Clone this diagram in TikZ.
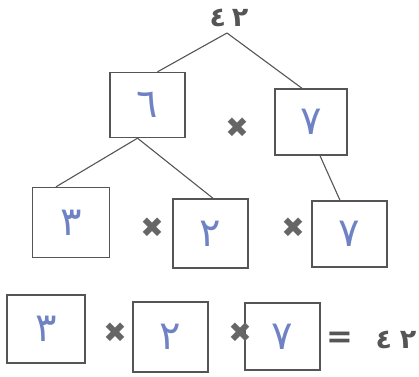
\documentclass[tikz,border=0pt]{standalone}
\usepackage{fontspec}
\newfontfamily\arabicfont[Script=Arabic]{DejaVu Sans}
\newfontfamily\symfont{DejaVu Sans}
\definecolor{ink}{HTML}{555555}
\definecolor{pen}{HTML}{6F82C4}
\newcommand\hdig[1]{\raisebox{-5pt}{#1}}
\begin{document}
\begin{tikzpicture}[x=1pt,y=-1pt,
  numbox/.style={draw=ink, line width=1.4pt, inner sep=0pt, text=pen,
    font=\arabicfont\fontsize{40}{42}\selectfont},
  times/.style={text=ink!90, font=\symfont\fontsize{28}{30}\selectfont, inner sep=0pt},
  printed/.style={text=ink, font=\arabicfont\bfseries\fontsize{27}{29}\selectfont, inner sep=0pt},
  branch/.style={draw=ink, line width=1.1pt}]
\useasboundingbox (0,0) rectangle (419,376);
% top number
\node[printed] (top) at (229,18) {٤\hspace{6pt}٢};
\coordinate (apex) at (227,33);
% first level
\node[numbox, minimum width=75pt, minimum height=65pt] (six) at (147.5,105) {\hdig{٦}};
\node[numbox, minimum width=72pt, minimum height=66pt] (seven) at (311,122) {\hdig{٧}};
\node[times] (x1) at (237,128) {✖};
% second level
\node[numbox, minimum width=77pt, minimum height=70pt] (three) at (71,222.5) {\hdig{٣}};
\node[numbox, minimum width=75pt, minimum height=69pt] (two) at (210.5,233.5) {\hdig{٢}};
\node[numbox, minimum width=75pt, minimum height=66pt] (sevenb) at (349.5,234) {\hdig{٧}};
\node[times] (x2) at (152,228) {✖};
\node[times] (x3) at (293,228) {✖};
% branches
\draw[branch] (apex) -- ([xshift=10pt]six.north);
\draw[branch] (apex) -- ([xshift=-9pt]seven.north);
\draw[branch] ([xshift=-10pt]six.south) -- ([xshift=-15pt]three.north);
\draw[branch] ([xshift=-10pt]six.south) -- ([xshift=2.5pt]two.north);
\draw[branch] ([xshift=9pt]seven.south) -- ([xshift=-9.5pt]sevenb.north);
% bottom equation
\node[numbox, minimum width=78pt, minimum height=68pt] (b3) at (46,329) {\hdig{٣}};
\node[numbox, minimum width=75pt, minimum height=70pt] (b2) at (170.5,337) {\hdig{٢}};
\node[numbox, minimum width=75pt, minimum height=67pt] (b7) at (282.5,336.5) {\hdig{٧}};
\node[times] (x4) at (115,333) {✖};
\node[times] (x5) at (240,333) {✖};
\node[text=ink, font=\symfont\bfseries\fontsize{32}{34}\selectfont, inner sep=0pt] (eq) at (340,340) {=};
\node[printed] (res) at (396,340) {٤\hspace{8pt}٢};
\end{tikzpicture}
\end{document}
